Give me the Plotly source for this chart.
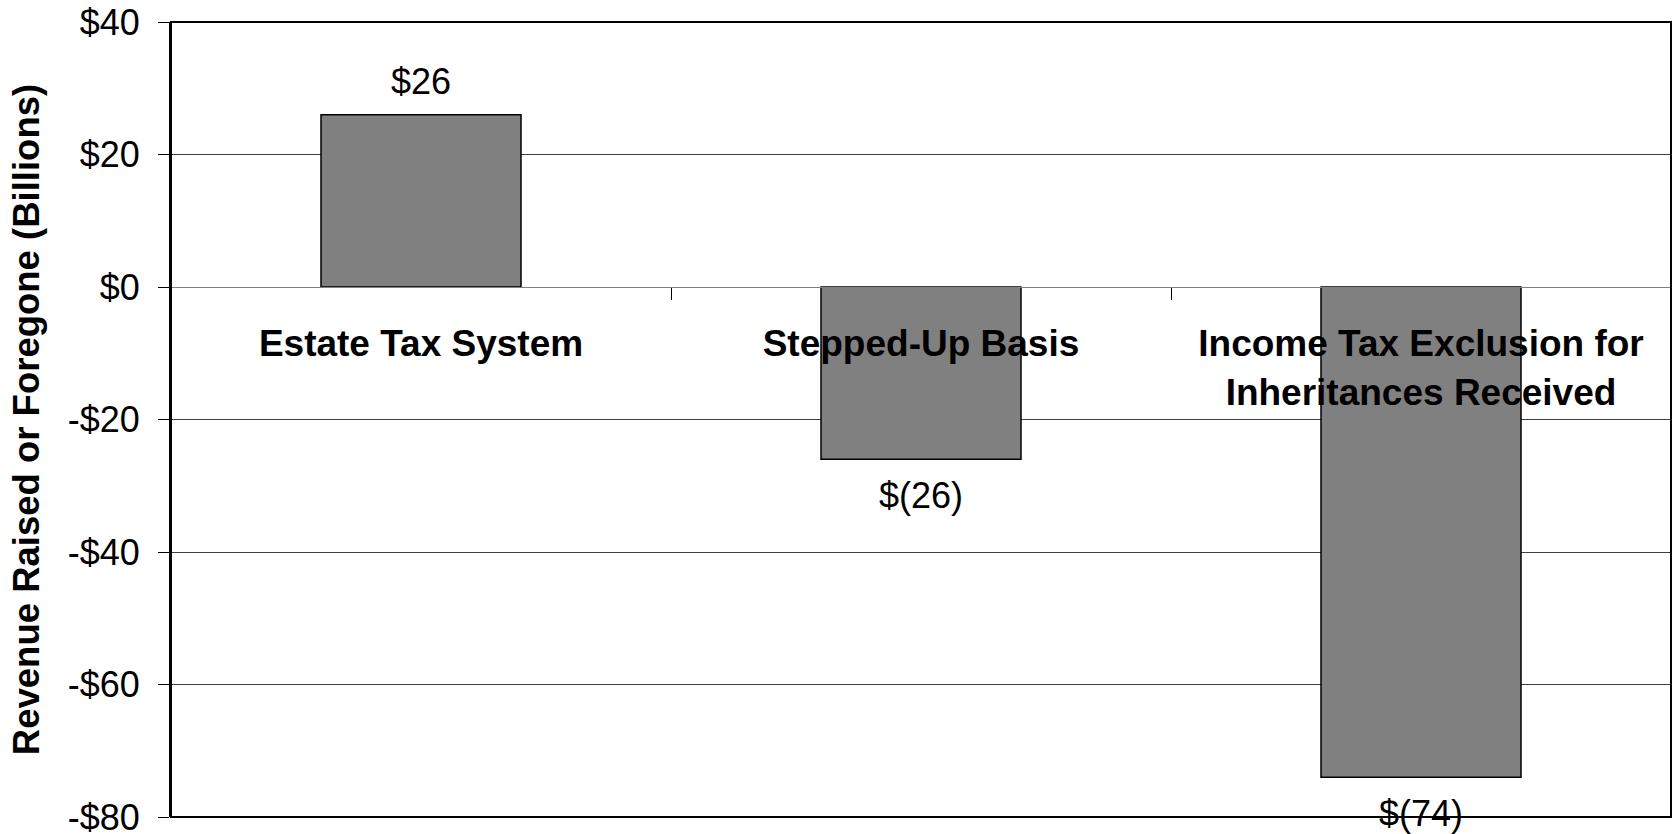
import plotly.graph_objects as go

# Revenue effect of each provision, billions of dollars
categories = ["Estate Tax System", "Stepped-Up Basis",
              "Income Tax Exclusion for<br>Inheritances Received"]
values = [26, -26, -74]

y_tickvals = [40, 20, 0, -20, -40, -60, -80]
y_ticktext = ["$40", "$20", "$0", "-$20", "-$40", "-$60", "-$80"]

FONT = "Arial, Liberation Sans, sans-serif"


def money(v):
    # accounting style: negatives in parentheses
    return f"${v:.0f}" if v >= 0 else f"$({abs(v):.0f})"


fig = go.Figure()
fig.add_trace(go.Bar(
    x=categories,
    y=values,
    width=0.4,
    marker=dict(color="#808080", line=dict(color="#000000", width=1.5)),
    hoverinfo="skip",
))

# value labels just beyond the end of each bar
for c, v in zip(categories, values):
    fig.add_annotation(
        x=c, y=v, text=money(v), showarrow=False,
        yanchor="bottom" if v >= 0 else "top",
        yshift=11 if v >= 0 else -14,
        font=dict(family=FONT, size=36, color="#000000"),
    )

# frame around the plot area
fig.add_shape(type="rect", xref="paper", yref="paper", x0=0, y0=0, x1=1, y1=1,
              line=dict(color="#000000", width=2), layer="above")

fig.update_layout(
    width=1673, height=834,
    margin=dict(l=171, r=2, t=22, b=17),
    paper_bgcolor="#ffffff",
    plot_bgcolor="#ffffff",
    showlegend=False,
    font=dict(family=FONT, color="#000000"),
)

fig.update_xaxes(
    type="category",
    anchor="free",
    position=80 / 120,
    automargin=False,
    showline=True, linecolor="#808080", linewidth=1,
    ticks="outside", ticklen=12, tickcolor="#000000", tickwidth=1,
    tickson="boundaries",
    ticklabelstandoff=24,
    tickfont=dict(family=FONT, size=37, color="#000000", weight="bold"),
    showgrid=False,
    range=[-0.5, 2.5],
)

fig.update_yaxes(
    range=[-80, 40],
    automargin=False,
    tickvals=y_tickvals, ticktext=y_ticktext,
    tickfont=dict(family=FONT, size=36, color="#000000"),
    ticks="outside", ticklen=11, tickcolor="#000000", tickwidth=1,
    ticklabelstandoff=11,
    ticklabeloverflow="allow",
    showgrid=True, gridcolor="#404040", gridwidth=1,
    zeroline=True, zerolinecolor="#808080", zerolinewidth=1,
    showline=True, linecolor="#000000", linewidth=2,
    title=dict(text="<b>Revenue Raised or Foregone (Billions)</b>",
               font=dict(family=FONT, size=36.5, color="#000000"),
               standoff=17),
)

fig.write_html("out.html")
